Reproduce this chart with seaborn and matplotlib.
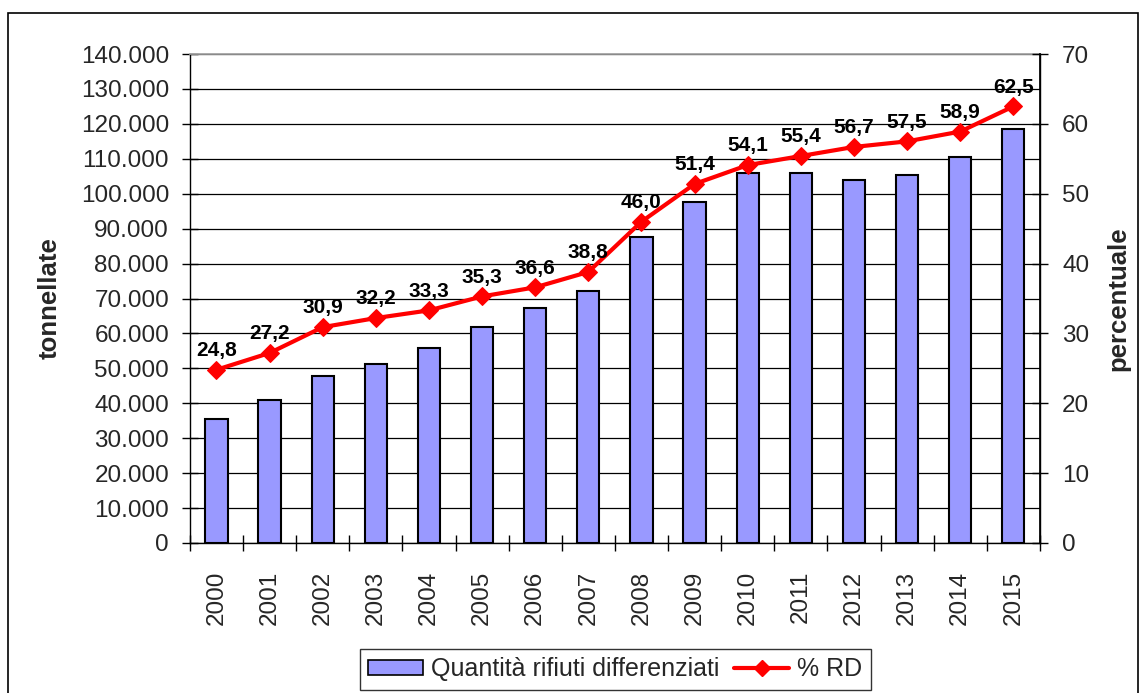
import matplotlib
matplotlib.use("Agg")
import matplotlib.pyplot as plt
import matplotlib.ticker as mticker
from matplotlib.patches import Rectangle
from matplotlib.lines import Line2D
from matplotlib.patches import Patch
import numpy as np
import pandas as pd
import seaborn as sns

years = ["2000", "2001", "2002", "2003", "2004", "2005", "2006", "2007",
         "2008", "2009", "2010", "2011", "2012", "2013", "2014", "2015"]
tonnellate = [35400, 41000, 47800, 51200, 55700, 61900, 67200, 72200,
              87600, 97700, 105800, 105800, 104000, 105300, 110400, 118400]
percent_rd = [24.8, 27.2, 30.9, 32.2, 33.3, 35.3, 36.6, 38.8,
              46.0, 51.4, 54.1, 55.4, 56.7, 57.5, 58.9, 62.5]
pct_labels = ["24,8", "27,2", "30,9", "32,2", "33,3", "35,3", "36,6", "38,8",
              "46,0", "51,4", "54,1", "55,4", "56,7", "57,5", "58,9", "62,5"]

sns.set_theme(style="white")
plt.rcParams["font.family"] = ["Liberation Sans", "DejaVu Sans"]

df = pd.DataFrame({"anno": years, "t": tonnellate, "p": percent_rd})

fig = plt.figure(figsize=(11.44, 6.93), dpi=100)
ax = fig.add_axes([0.166, 0.2165, 0.743, 0.7055])

bar_color = "#9999FF"
sns.barplot(data=df, x="anno", y="t", color=bar_color, width=0.42,
            edgecolor="black", linewidth=1.5, saturation=1, ax=ax, zorder=3)

ax.set_ylim(0, 140000)
ax.set_xlim(-0.5, len(years) - 0.5)
ax.yaxis.set_major_locator(mticker.MultipleLocator(10000))
ax.yaxis.set_major_formatter(mticker.FuncFormatter(
    lambda v, p: "0" if v == 0 else f"{int(v):,}".replace(",", ".")))
ax.grid(axis="y", color="black", linewidth=0.9, zorder=0)
ax.set_axisbelow(True)
ax.set_xlabel("")
ax.set_ylabel("tonnellate", fontsize=18.5, fontweight="bold", labelpad=14)
ax.tick_params(axis="y", labelsize=17.5, length=12, width=1, color="black",
               direction="inout", left=True, pad=9)
ax.tick_params(axis="x", which="major", labelsize=17.5, length=0, rotation=90, pad=20)
ax.set_xticks(np.arange(-0.5, len(years), 1.0), minor=True)
ax.tick_params(axis="x", which="minor", length=12, width=1, color="black",
               direction="inout", bottom=True)
for s in ["left", "bottom", "right"]:
    ax.spines[s].set_color("black")
    ax.spines[s].set_linewidth(1)
ax.spines["top"].set_color("#A0A0A0")

ax2 = ax.twinx()
x_idx = np.arange(len(years))
sns.lineplot(x=x_idx, y=percent_rd, ax=ax2, color="#FF0000", linewidth=3,
             marker="D", markersize=9, markeredgecolor="#FF0000", zorder=5)
ax2.set_ylim(0, 70)
ax2.set_xlim(-0.5, len(years) - 0.5)
ax2.yaxis.set_major_locator(mticker.MultipleLocator(10))
ax2.tick_params(axis="y", labelsize=17.5, length=12, width=1, color="black",
                direction="inout", right=True, pad=10)
ax2.set_ylabel("percentuale", fontsize=18.5, fontweight="bold", labelpad=12)
for s in ax2.spines.values():
    s.set_visible(False)
ax2.spines["right"].set_visible(True)
ax2.spines["right"].set_color("black")

for xi, yv, lab in zip(x_idx, percent_rd, pct_labels):
    ax2.annotate(lab, (xi, yv), xytext=(0, 7), textcoords="offset points",
                 ha="center", va="bottom", fontsize=15, fontweight="bold",
                 color="black", zorder=6)

handles = [Patch(facecolor=bar_color, edgecolor="black", linewidth=1.2),
           Line2D([0], [0], color="#FF0000", linewidth=3, marker="D",
                  markersize=8)]
leg = fig.legend(handles, ["Quantità rifiuti differenziati", "% RD"],
                 loc="lower center", bbox_to_anchor=(0.5376, 0.004), ncol=2,
                 fontsize=18, frameon=True, fancybox=False, edgecolor="black",
                 handlelength=2.2, handleheight=0.5, handletextpad=0.3,
                 columnspacing=0.6, borderpad=0.35, borderaxespad=0.0)
leg.get_frame().set_linewidth(1)

fig.patches.append(Rectangle((0.007, -0.01), 0.988, 0.991, fill=False,
                             edgecolor="black", linewidth=1.2,
                             transform=fig.transFigure, figure=fig))

fig.savefig("out.png", dpi=100)
